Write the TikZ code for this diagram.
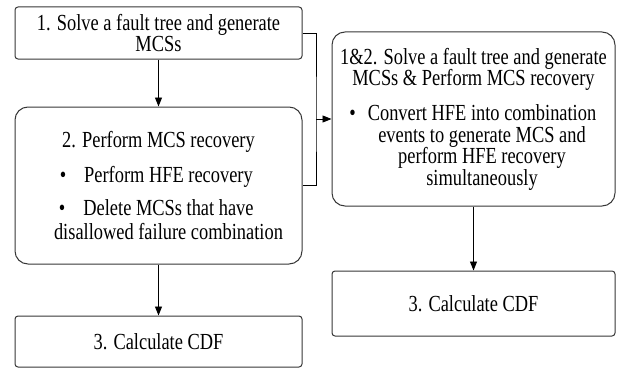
\documentclass[tikz,border=0pt]{standalone}
\usepackage{fontspec}
\setmainfont{Liberation Serif}[FakeStretch=0.8]
\usetikzlibrary{arrows.meta}
\definecolor{boxcol}{RGB}{55,55,55}
\newcommand\bul[2]{\hspace*{#1}\llap{\textbullet\hspace{#2}}}

\begin{document}
\begin{tikzpicture}[x=1pt,y=-1pt,
  font=\fontsize{23}{21.5}\selectfont,
  sbox/.style={draw=boxcol,line width=1pt,rounded corners=3pt,align=center,inner sep=0pt},
  rbox/.style={sbox,rounded corners=13pt},
  arr/.style={-{Triangle[length=9pt,width=7pt]},line width=0.9pt}]
\useasboundingbox[fill=white] (0,0) rectangle (617,369);
\node[sbox,minimum width=287pt,minimum height=52pt] (solve) at (158.5,33) {1. Solve a fault tree and generate\\MCSs};
\node[rbox,minimum width=287pt,minimum height=157pt] (recov) at (158.5,185.5) {2. Perform MCS recovery\\[13.5pt]
  \bul{20pt}{18pt}Perform HFE recovery\\[11.5pt]
  \bul{20pt}{18pt}Delete MCSs that have\\[2.5pt]
  \hspace*{20pt}disallowed failure combination};
\node[sbox,minimum width=287pt,minimum height=51pt] (cdfa) at (158.5,341.5) {3. Calculate CDF};
\node[rbox,minimum width=283pt,minimum height=174pt] (both) at (473.5,119) {1\&2. Solve a fault tree and generate\\
  MCSs \& Perform MCS recovery\\[13.5pt]
  \bul{17pt}{12pt}Convert HFE into combination\\
  \hspace*{17pt}events to generate MCS and\\
  \hspace*{17pt}perform HFE recovery\\
  \hspace*{17pt}simultaneously};
\node[sbox,minimum width=283pt,minimum height=65pt] (cdfb) at (473.5,303.5) {3. Calculate CDF};
\coordinate (split) at (316,119);
\draw[arr] (solve) -- (recov);
\draw[arr] (recov) -- (cdfa);
\draw[arr] (both) -- (cdfb);
\draw[line width=0.9pt] (solve.east) -| (split) |- (recov.east);
\draw[arr] (split) -- (both.west);
\end{tikzpicture}
\end{document}
